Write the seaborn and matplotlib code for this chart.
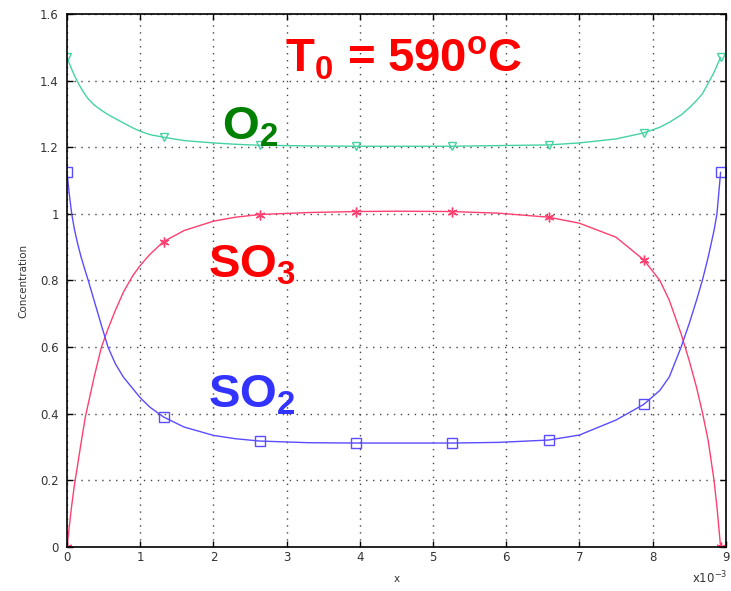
import matplotlib
matplotlib.use("Agg")
import matplotlib.pyplot as plt
import seaborn as sns
import pandas as pd

# Positions along the channel (units of 1e-3)
x_pos = [0, 0.03, 0.064, 0.1, 0.14, 0.19, 0.25, 0.29, 0.37, 0.47, 0.56, 0.66, 0.77,
         0.9, 1.0, 1.13, 1.32, 1.6, 2.0, 2.3, 2.63, 3.3, 3.95, 4.5, 5.26, 5.9, 6.58,
         7.0, 7.5, 7.88, 8.1, 8.23, 8.39, 8.5, 8.6, 8.68, 8.76, 8.84, 8.88, 8.93]

o2 = [1.47, 1.452, 1.434, 1.416, 1.398, 1.378, 1.357, 1.345, 1.327, 1.311, 1.298,
      1.286, 1.273, 1.258, 1.248, 1.238, 1.23, 1.22, 1.213, 1.209, 1.206, 1.204,
      1.203, 1.203, 1.203, 1.205, 1.207, 1.213, 1.225, 1.243, 1.26, 1.275, 1.297,
      1.318, 1.34, 1.36, 1.392, 1.425, 1.445, 1.47]

so2 = [1.125, 1.06, 1.0, 0.955, 0.915, 0.872, 0.828, 0.8, 0.74, 0.665, 0.6, 0.55,
       0.51, 0.475, 0.448, 0.42, 0.39, 0.36, 0.335, 0.325, 0.318, 0.313, 0.312,
       0.312, 0.312, 0.314, 0.321, 0.336, 0.381, 0.428, 0.47, 0.511, 0.6, 0.67,
       0.74, 0.8, 0.87, 0.95, 1.0, 1.125]

so3 = [0.0, 0.06, 0.125, 0.185, 0.24, 0.31, 0.39, 0.43, 0.51, 0.6, 0.655, 0.71,
       0.765, 0.815, 0.845, 0.878, 0.917, 0.95, 0.978, 0.99, 0.998, 1.004, 1.007,
       1.008, 1.007, 1.002, 0.99, 0.972, 0.93, 0.862, 0.8, 0.74, 0.64, 0.56, 0.48,
       0.405, 0.32, 0.2, 0.12, 0.0]

# Indices of the points carrying a marker
marked = [0, 16, 20, 22, 24, 26, 29, 39]

x_ticks = [0, 1, 2, 3, 4, 5, 6, 7, 8, 9]
y_ticks = [0, 0.2, 0.4, 0.6, 0.8, 1.0, 1.2, 1.4, 1.6]
y_tick_labels = ["0", "0.2", "0.4", "0.6", "0.8", "1", "1.2", "1.4", "1.6"]

df = pd.DataFrame({"x": x_pos, "O2": o2, "SO2": so2, "SO3": so3})

sns.set_theme(style="white")
plt.rcParams["font.family"] = ["DejaVu Sans"]
plt.rcParams["mathtext.fontset"] = "custom"
plt.rcParams["mathtext.rm"] = "Liberation Sans:bold"
plt.rcParams["mathtext.it"] = "Liberation Sans:bold"
plt.rcParams["mathtext.bf"] = "Liberation Sans:bold"

fig = plt.figure(figsize=(7.31, 5.91), dpi=100)
ax = fig.add_axes([0.0917, 0.0745, 0.9011, 0.9018])

series = [
    ("O2", "#45d2a4", "v", 5.5),
    ("SO3", "#ff3f6f", (6, 2, 0), 7),
    ("SO2", "#5a4cff", "s", 6.5),
]
for name, col, mk, ms in series:
    sns.lineplot(data=df, x="x", y=name, ax=ax, color=col, linewidth=1.0,
                 marker=mk, markevery=marked, markersize=ms,
                 markerfacecolor="none", markeredgecolor=col,
                 markeredgewidth=1.0, sort=False, estimator=None)

ax.set_xlim(0, 9)
ax.set_ylim(0, 1.6)
ax.set_xticks(x_ticks)
ax.set_xticklabels([str(t) for t in x_ticks])
ax.set_yticks(y_ticks)
ax.set_yticklabels(y_tick_labels)

ax.grid(True, color="#444444", linestyle=(0, (1, 4)), linewidth=1.0)
ax.tick_params(direction="in", length=4, width=1, colors="black",
               labelcolor="#333333", labelsize=8.5, top=True, right=True,
               bottom=True, left=True, pad=6)
ax.tick_params(axis="x", pad=3)
for sp in ax.spines.values():
    sp.set_color("black")
    sp.set_linewidth(1.2)

ax.set_xlabel("x", fontsize=7.5, color="#333333", labelpad=7)
ax.set_ylabel("Concentration", fontsize=7.5, color="#333333", labelpad=8)
ax.text(1.002, -0.043, r"x10$^{\mathdefault{-3}}$", transform=ax.transAxes,
        ha="right", va="top", fontsize=8.5, color="#333333")

# Species and temperature annotations
bold = dict(family="Liberation Sans", fontweight="bold", ha="left", va="baseline")
ax.text(2.98, 1.426, r"T$_\mathrm{0}$ = 590$^\mathrm{o}$C", color="#ff0000",
        fontsize=34, **bold)
ax.text(2.12, 1.222, r"O$_\mathrm{2}$", color="#008000", fontsize=34, **bold)
ax.text(1.93, 0.808, r"SO$_\mathrm{3}$", color="#ff0000", fontsize=34, **bold)
ax.text(1.93, 0.42, r"SO$_\mathrm{2}$", color="#3333ff", fontsize=34, **bold)

fig.savefig("out.png", dpi=100)
